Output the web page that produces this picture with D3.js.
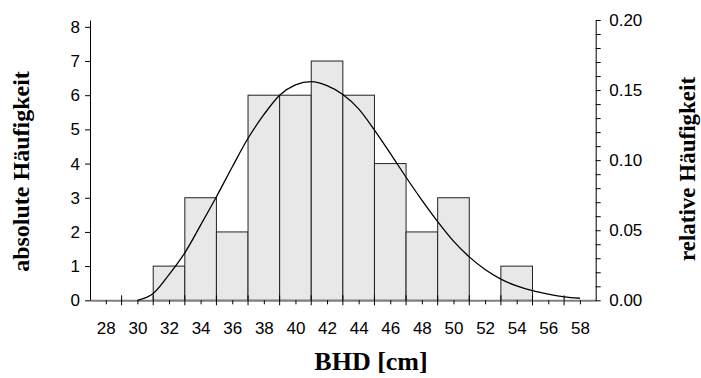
<!DOCTYPE html>
<html>
<head>
<meta charset="utf-8">
<script src="https://cdn.jsdelivr.net/npm/d3@7"></script>
<style>
  body { margin: 0; background: #fff; }
  .tick text { font-family: "Liberation Sans", Arial, sans-serif; font-size: 17px; fill: #000; }
  .title { font-family: "Liberation Serif", "Times New Roman", serif; font-weight: bold; }
</style>
</head>
<body>
<script>
// class midpoints (cm) and absolute counts
const classMid = [32, 34, 36, 38, 40, 42, 44, 46, 48, 50, 52, 54];
const counts   = [1, 3, 2, 6, 6, 7, 6, 4, 2, 3, 0, 1];
const classWidth = 2;

// fitted curve (absolute frequency)
const curveX = [30, 31, 32, 33, 34, 35, 36, 37, 38, 39, 40, 41, 42, 43, 44,
                45, 46, 47, 48, 49, 50, 51, 52, 53, 54, 55, 56, 57, 58];
const curveY = [0.0, 0.2, 0.75, 1.39, 2.2, 3.03, 3.9, 4.74, 5.43, 6.0, 6.3, 6.4, 6.28, 6.02, 5.6,
                4.98, 4.3, 3.6, 2.93, 2.3, 1.73, 1.27, 0.9, 0.62, 0.42, 0.28, 0.18, 0.1, 0.06];

// tick labels
const xLabels = [28, 30, 32, 34, 36, 38, 40, 42, 44, 46, 48, 50, 52, 54, 56, 58];
const yLeftTicks = [0, 1, 2, 3, 4, 5, 6, 7, 8];
const yRightTicks = [0, 0.01, 0.02, 0.03, 0.04, 0.05, 0.06, 0.07, 0.08, 0.09, 0.1,
                     0.11, 0.12, 0.13, 0.14, 0.15, 0.16, 0.17, 0.18, 0.19, 0.2];

const n = d3.sum(counts);

const W = 701, H = 378;
const plotL = 90, plotR = 595.7, plotT = 20, plotB = 300.3;

const svg = d3.select("body").append("svg")
    .attr("width", W)
    .attr("height", H);

const x = d3.scaleLinear().domain([27, 59]).range([plotL, plotR]);
const yR = d3.scaleLinear().domain([0, 0.2]).range([plotB, plotT]);
const yL = d3.scaleLinear().domain([0, 0.2 * n]).range([plotB, plotT]);

// bars
const bins = classMid.map((m, i) => ({mid: m, c: counts[i]})).filter(d => d.c > 0);
svg.append("g").selectAll("rect")
  .data(bins)
  .enter()
  .append("rect")
    .attr("x", d => x(d.mid - classWidth / 2))
    .attr("y", d => yL(d.c))
    .attr("width", d => x(d.mid + classWidth / 2) - x(d.mid - classWidth / 2))
    .attr("height", d => yL(0) - yL(d.c))
    .attr("fill", "#e8e8e8")
    .attr("stroke", "#222")
    .attr("stroke-width", 1);

// x axis: minor ticks with labels at even values
const xAxis = svg.append("g")
  .attr("transform", `translate(0, ${plotB})`)
  .call(d3.axisBottom(x).tickValues(xLabels).tickSize(4).tickPadding(18).tickSizeOuter(0));
xAxis.select(".domain").attr("stroke", "#808080").attr("stroke-width", 2);
xAxis.selectAll(".tick line").attr("stroke", "#000");

// x axis: bar-edge ticks crossing the axis at odd values
const oddTicks = d3.range(29, 59, 2);
svg.append("g").selectAll("line")
  .data(oddTicks)
  .enter()
  .append("line")
    .attr("x1", d => x(d)).attr("x2", d => x(d))
    .attr("y1", plotB - 5).attr("y2", plotB + 5)
    .attr("stroke", "#000");

// left axis
const yAxisL = svg.append("g")
  .attr("transform", `translate(${plotL}, 0)`)
  .call(d3.axisLeft(yL).tickValues(yLeftTicks).tickSize(5).tickPadding(5).tickSizeOuter(0));
yAxisL.select(".domain").attr("stroke", "#000");

// right axis
const yAxisR = svg.append("g")
  .attr("transform", `translate(${plotR}, 0)`)
  .call(d3.axisRight(yR).tickValues(yRightTicks).tickSize(5).tickPadding(8.5).tickSizeOuter(0)
    .tickFormat(d => Math.round(d * 100) % 5 === 0 ? d3.format(".2f")(d) : ""));
yAxisR.select(".domain").attr("stroke", "#000");

// fitted curve
svg.append("path")
  .datum(curveX.map((v, i) => [v, curveY[i]]))
  .attr("fill", "none")
  .attr("stroke", "#000")
  .attr("stroke-width", 1.3)
  .attr("d", d3.line()
    .x(d => x(d[0]))
    .y(d => yL(d[1]))
    .curve(d3.curveMonotoneX));

// axis titles
svg.append("text")
  .attr("class", "title")
  .attr("transform", `translate(29, 171.5) rotate(-90)`)
  .attr("text-anchor", "middle")
  .style("font-size", "24px")
  .text("absolute Häufigkeit");

svg.append("text")
  .attr("class", "title")
  .attr("transform", `translate(695, 169) rotate(-90)`)
  .attr("text-anchor", "middle")
  .style("font-size", "23px")
  .text("relative Häufigkeit");

svg.append("text")
  .attr("class", "title")
  .attr("x", 371)
  .attr("y", 370)
  .attr("text-anchor", "middle")
  .style("font-size", "26px")
  .text("BHD [cm]");
</script>
</body>
</html>
